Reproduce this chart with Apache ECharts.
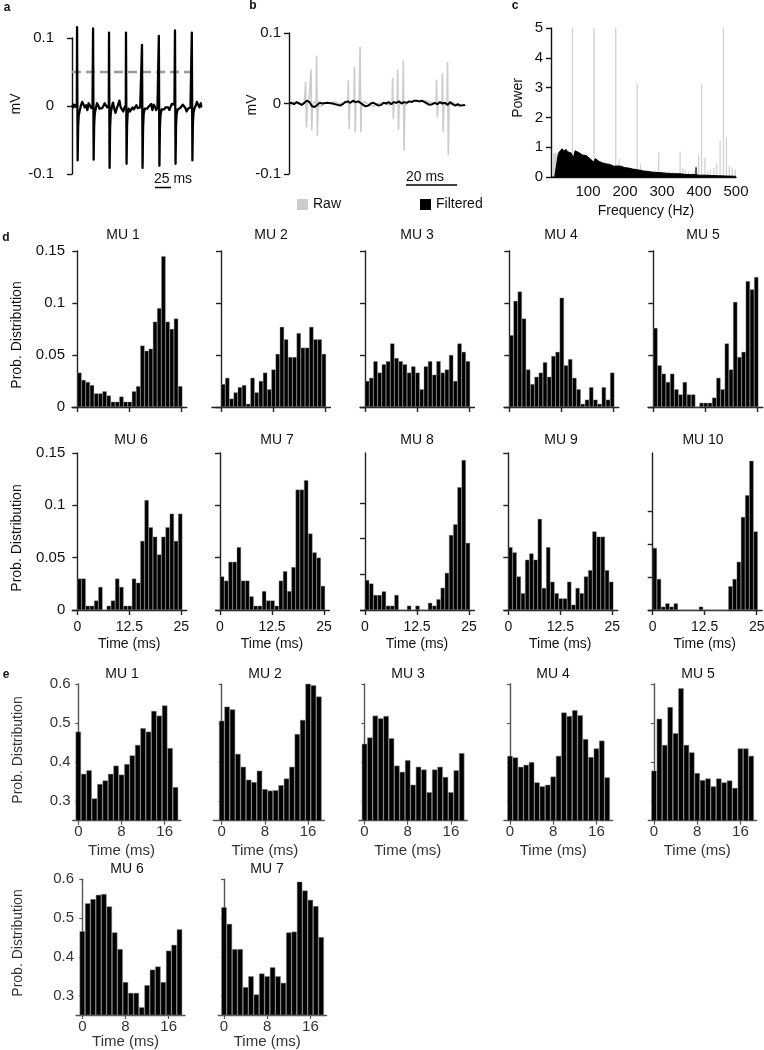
<!DOCTYPE html>
<html><head><meta charset="utf-8">
<script src="https://cdn.jsdelivr.net/npm/echarts@6/dist/echarts.min.js"></script>
<style>html,body{margin:0;padding:0;background:#fff}#c{width:764px;height:1050px}</style>
</head><body><div id="c"></div>
<script>
// ---------------- DATA ----------------
// Panel a: raw EMG trace [time ms, mV]
const aTrace = [
[0,0.001],[1.5,-0.002],[3,0.002],[5,-0.001],[7,0.001],[7.6,0.003],[7.9,0.116],[8.8,-0.080],[9.6,-0.030],[10.5,-0.014],[12,-0.007],[14,0.001],[16,0.006],[18,0.002],[20,-0.002],[22,0.001],[24,-0.006],[26,0.004],[28,0.002],[30,-0.003],[32,0.000],
[32.6,0.002],[32.9,0.114],[33.8,-0.079],[34.6,-0.028],[35.5,-0.012],[37,-0.004],[39,0.004],[41,0.001],[43,-0.004],[45,-0.003],[47,-0.003],[49,0.0],[51,0.004],[53,0.001],[55,-0.002],[57,0.0],
[57.5,0.001],[57.8,0.108],[58.7,-0.091],[59.5,-0.032],[60.4,-0.012],[62,-0.002],[64,0.005],[66,-0.004],[68,-0.010],[70,-0.003],[72,0.002],[74,0.008],[76,-0.002],[78,-0.004],[80,-0.008],[82,-0.002],[83.5,0.0],
[84,0.001],[84.3,0.108],[85.2,-0.085],[86,-0.028],[86.9,-0.011],[88.5,-0.004],[90.5,-0.008],[92.5,-0.007],[94.5,-0.002],[96.5,-0.005],[98.5,-0.004],[100.5,0.001],[102.5,-0.003],[104.5,-0.004],[106.5,-0.002],[108.5,-0.001],
[109,0.0],[109.3,0.090],[110.2,-0.091],[111,-0.032],[111.9,-0.012],[113.5,-0.004],[115.5,-0.003],[117.5,-0.004],[119.5,-0.001],[121.5,-0.003],[123.5,0.003],[125.5,-0.006],[127.5,0.002],[129.5,-0.001],[131.5,-0.006],[133.5,-0.002],[135.2,0.0],
[135.6,0.103],[136.5,-0.088],[137.3,-0.030],[138.2,-0.013],[140,-0.005],[142,-0.006],[144,-0.005],[146,-0.002],[148,-0.004],[150,-0.002],[152,-0.006],[154,-0.001],[156,0.003],[158,0.005],[160,0.002],
[160.5,0.002],[160.8,0.111],[161.7,-0.085],[162.5,-0.027],[163.4,-0.012],[165,-0.005],[167,-0.004],[169,-0.003],[171,-0.004],[173,0.002],[175,0.004],[177,-0.003],[179,-0.008],[181,-0.004],[183,-0.006],[185,-0.002],[186.8,0.0],
[187.1,0.108],[188,-0.080],[188.8,-0.026],[189.7,-0.010],[191,-0.004],[193,0.0],[195,0.006],[197,0.002],[199,-0.002],[200,0.0],[201,0.004],[202,-0.002]
];
const aThresholdMv = 0.05;
const aThresholdSpanMs = [0, 197];
const aScaleBar = {startMs: 129.6, lengthMs: 25, levelMv: -0.12, label: '25 ms'};

// Panel b: raw vs filtered [time ms, mV]
const bRaw = [
[0,0.001],[1,-0.001],[2,0.002],[3,0],[4,0.001],[5,-0.002],[6,0],
[6.3,0],[6.5,0.031],[6.8,-0.034],[7.1,-0.002],[7.8,0.002],[8.4,0],[8.6,0.048],[8.9,-0.038],[9.2,-0.003],[10,0.003],[10.6,0],[10.8,0.068],[11.1,-0.046],[11.4,-0.004],
[12.5,-0.004],[14,0.001],[16,0],[18,0.002],[20,-0.001],[22,0.002],[23,0],
[23.2,0.033],[23.5,-0.036],[23.8,0],[25,0.004],[25.4,0],[25.6,0.052],[25.9,-0.041],[26.2,0],[27.4,0.002],[27.8,0.080],[28.1,-0.041],[28.4,-0.002],
[29.5,0.003],[31,-0.002],[33,-0.004],[35,0],[37,0.001],[39,-0.002],[40.3,0],
[40.5,0.036],[40.8,-0.022],[41.1,-0.001],[42.3,0.002],[42.5,0.048],[42.8,-0.038],[43.1,0],[44.5,0.002],[44.7,0.061],[45.0,-0.067],[45.3,-0.003],
[47,0.003],[49,0.004],[51,0.002],[53,0.004],[55,0.002],[57.5,0],
[57.7,0.034],[58.0,-0.020],[58.3,0],[59.8,0.001],[60,0.043],[60.3,-0.041],[60.6,0],[61.8,0.001],[62,0.059],[62.3,-0.073],[62.6,-0.003],
[64,0.002],[66,-0.004],[68,-0.002],[69.5,-0.003]
];
const bFiltered = [
[0,0],[1,0.001],[2,-0.001],[3,0.002],[4,0],[5,-0.002],[6,0.001],[7,0.004],[8,0.002],[9,-0.004],[10,-0.005],[11,-0.002],[12,0.001],[13,0],[15,0.001],[17,0],[19,-0.002],[20,-0.003],[21,-0.001],[22,0.002],[23,0.003],[24,0.001],[25,0.004],[26,0.002],[27,0.003],[28,0.001],[29,-0.002],[30,-0.004],[31,-0.003],[32,0],[33,0.001],[34,-0.001],[35,-0.003],[36,-0.002],[37,0.001],[38,0],[39,0.002],[40,-0.001],[41,0.002],[42,0.001],[43,0.003],[44,0],[45,0.002],[46,0.001],[47,0.003],[48,0.002],[49,0.004],[50,0.004],[51,0.003],[52,0.004],[53,0.002],[54,0],[55,-0.002],[56,-0.001],[57,0.001],[58,-0.001],[59,0.002],[60,0],[61,0.001],[62,-0.002],[63,0.002],[64,-0.001],[65,-0.003],[66,-0.001],[67,-0.003],[68.8,-0.002]
];
const bScaleBar = {startMs: 45.75, lengthMs: 20, levelMv: -0.1156, label: '20 ms'};

// Panel c: power spectra
const cFreqStepHz = 5;
const cFilteredPower = [
0,0,0,0,0.8,0.88,0.95,0.86,0.93,0.85,
0.9,0.8,0.62,0.88,0.92,0.82,0.86,0.74,0.78,0.72,
0.7,0.62,0.66,0.5,0.62,0.58,0.52,0.56,0.47,0.5,
0.44,0.46,0.42,0.44,0.36,0.4,0.37,0.34,0.36,0.3,
0.31,0.28,0.3,0.26,0.27,0.24,0.25,0.22,0.23,0.22,
0.2,0.21,0.19,0.2,0.17,0.18,0.16,0.17,0.15,0.16,
0.14,0.15,0.13,0.14,0.12,0.13,0.11,0.12,0.11,0.1,
0.11,0.1,0.09,0.1,0.08,0.09,0.08,0.07,0.08,0.07,
0.06,0.07,0.06,0.05,0.06,0.05,0.05,0.04,0.05,0.04,
0.04,0.035,0.04,0.03,0.035,0.03,0.03,0.025,0.03,0.025,
0.02];
const cFilteredPeaks = [[392,0.33]];
const cRawLines = [[6,0.78],[9,0.8],[12,0.82],[15,0.75],[18,0.7],[22,0.5],[58,5],[116.5,5],[175,5],[184,0.6],[233,3.15],[242,0.45],[291,0.82],[320,0.2],[330,0.18],[338,0.15],[349,0.85],[356,0.3],[363,0.25],[372,0.18],[381,0.15],[390,0.2],[399,0.75],[407,3.1],[416,0.65],[424,0.22],[431,0.25],[440,0.3],[448,0.48],[457,1.22],[466,5],[474,1.32],[482,0.35],[490,0.28],[498,0.25]];

// Panel d: probability distributions (25 bins over 0-25 ms)
const dMU1 = [0.033,0.026,0.024,0.021,0.013,0.013,0.015,0.011,0.005,0.005,0.010,0.005,0.005,0.015,0.020,0.059,0.054,0.056,0.082,0.095,0.145,0.082,0.075,0.085,0.020];
const dMU2 = [0.022,0.028,0.008,0.014,0.019,0.021,0.003,0.028,0.014,0.025,0.033,0.017,0.036,0.051,0.077,0.065,0.048,0.048,0.071,0.057,0.057,0.077,0.065,0.065,0.051];
const dMU3 = [0.025,0.028,0.044,0.033,0.041,0.044,0.061,0.047,0.044,0.041,0.033,0.039,0.033,0.017,0.039,0.044,0.031,0.044,0.033,0.036,0.050,0.025,0.061,0.053,0.044];
const dMU4 = [0.069,0.102,0.111,0.085,0.036,0.022,0.029,0.033,0.043,0.029,0.049,0.053,0.105,0.040,0.046,0.028,0.017,0.003,0.007,0.019,0.007,0.003,0.019,0.007,0.033];
const dMU5 = [0.076,0.040,0.032,0.024,0.032,0.017,0.012,0.024,0.012,0.012,0,0.004,0.004,0.004,0.009,0.028,0.017,0.061,0.036,0.101,0.048,0.053,0.121,0.113,0.125];
const dMU6 = [0.030,0.030,0.004,0.004,0.009,0.022,0,0.004,0.009,0.030,0.022,0.004,0.004,0.030,0.026,0.066,0.105,0.079,0.070,0.053,0.070,0.079,0.092,0.066,0.092];
const dMU7 = [0.032,0.028,0.046,0.046,0.060,0.028,0.028,0.013,0.004,0.004,0.018,0.009,0.009,0.004,0.028,0.037,0.018,0.041,0.115,0.115,0.124,0.073,0.055,0.050,0.023];
const dMU8 = [0.042,0.037,0.021,0.021,0.026,0.006,0.006,0.021,0,0,0.006,0,0.006,0,0,0.010,0.006,0.015,0.031,0.052,0.105,0.120,0.172,0.210,0.094];
const dMU9 = [0.060,0.055,0.032,0.016,0.048,0.054,0.048,0.087,0.021,0.060,0.027,0.016,0.011,0.011,0.027,0.005,0.021,0.016,0.032,0.038,0.075,0.070,0.070,0.038,0.027];
const dMU10 = [0.094,0.047,0.005,0.010,0.005,0.010,0,0,0,0,0,0.005,0,0,0,0,0,0,0.036,0.047,0.073,0.141,0.174,0.226,0.119];
const dYMax = [0.15,0.15,0.15,0.15,0.15,0.15,0.15,0.22,0.15,0.238];
const dYTicks = [0, 0.05, 0.1, 0.15];
const dXTicks = [0, 12.5, 25];
const dBinMs = 1.01;

// Panel e: probability distributions (19 bins, 1 ms)
const eMU1 = [0.478,0.370,0.379,0.307,0.344,0.353,0.370,0.391,0.368,0.395,0.417,0.444,0.487,0.478,0.531,0.519,0.545,0.436,0.336];
const eMU2 = [0.506,0.542,0.535,0.421,0.388,0.355,0.349,0.378,0.331,0.327,0.328,0.341,0.358,0.388,0.472,0.508,0.602,0.597,0.568];
const eMU3 = [0.447,0.463,0.519,0.512,0.518,0.461,0.391,0.375,0.405,0.342,0.388,0.381,0.323,0.381,0.388,0.362,0.323,0.379,0.423];
const eMU4 = [0.416,0.412,0.388,0.393,0.400,0.348,0.338,0.342,0.363,0.416,0.527,0.518,0.533,0.520,0.459,0.413,0.435,0.455,0.361];
const eMU5 = [0.378,0.511,0.444,0.541,0.474,0.589,0.444,0.425,0.372,0.354,0.358,0.338,0.358,0.348,0.353,0.334,0.435,0.435,0.416];
const eMU6 = [0.466,0.538,0.549,0.560,0.562,0.530,0.463,0.420,0.335,0.307,0.307,0.270,0.327,0.367,0.375,0.335,0.416,0.431,0.471];
const eMU7 = [0.528,0.485,0.420,0.420,0.322,0.350,0.303,0.357,0.350,0.373,0.350,0.333,0.463,0.465,0.594,0.571,0.547,0.531,0.451];
const eYTicks = [0.3, 0.4, 0.5, 0.6];
const eXTicks = [0, 8, 16];
const eBinMs = 1;

const dTitles = ['MU 1','MU 2','MU 3','MU 4','MU 5','MU 6','MU 7','MU 8','MU 9','MU 10'];
const eTitles = ['MU 1','MU 2','MU 3','MU 4','MU 5','MU 6','MU 7'];

// ---------------- LAYOUT / STYLE ----------------
const FONT = '"Liberation Sans", Arial, Helvetica, sans-serif';
const grids = [], xAxes = [], yAxes = [], series = [], graphics = [];

function txt(x, y, text, o) {
  o = o || {};
  graphics.push({type:'text', x:x, y:y, rotation:o.rot||0, silent:true,
    style:{text:text, fill:o.color||'#111', fontSize:o.size||14, fontFamily:FONT, fontWeight:o.weight||'normal',
      align:o.align||'center', verticalAlign:'middle'}});
}
function addGrid(left, top, width, height) {
  grids.push({left:left, top:top, width:width, height:height, containLabel:false, outerBoundsMode:'none'});
  return grids.length - 1;
}
function px(g, xa, ya, xv, yv) {
  const gr = grids[g];
  return [gr.left + (xv - xa.min) / (xa.max - xa.min) * gr.width,
          gr.top + gr.height - (yv - ya.min) / (ya.max - ya.min) * gr.height];
}

// ---- Panel a ----
(function(){
  const g = addGrid(72, 38, 130, 136);
  const xa = {type:'value', gridIndex:g, min:0, max:203, show:false};
  const ya = {type:'value', gridIndex:g, min:-0.1, max:0.1, interval:0.1,
    axisLine:{show:true, lineStyle:{color:'#111', width:1.4}},
    axisTick:{show:true, length:5, lineStyle:{color:'#111', width:1.4}},
    axisLabel:{color:'#111', fontSize:15, fontFamily:FONT, margin:18}, splitLine:{show:false}};
  xAxes.push(xa); yAxes.push(ya);
  series.push({type:'line', xAxisIndex:g, yAxisIndex:g, symbol:'none', silent:true, z:1,
    data:[[aThresholdSpanMs[0], aThresholdMv],[aThresholdSpanMs[1], aThresholdMv]],
    lineStyle:{color:'#9a9a9a', width:2.5, type:[9,5]}});
  series.push({type:'line', xAxisIndex:g, yAxisIndex:g, symbol:'none', silent:true, clip:false, z:3,
    data:aTrace, lineStyle:{color:'#000', width:2.3, join:'round'}});
  const sb = aScaleBar;
  series.push({type:'line', xAxisIndex:g, yAxisIndex:g, symbol:'none', silent:true, clip:false,
    data:[[sb.startMs, sb.levelMv],[sb.startMs+sb.lengthMs, sb.levelMv]], lineStyle:{color:'#000', width:1.5}});
  const p = px(g, xa, ya, sb.startMs, sb.levelMv);
  txt(p[0]-1, p[1]-8, sb.label, {align:'left', size:14});
  txt(16, 104, 'mV', {rot:Math.PI/2, size:14});
  txt(7, 8, 'a', {weight:'bold', size:12});
})();

// ---- Panel b ----
(function(){
  const g = addGrid(289, 33, 179, 141);
  const xa = {type:'value', gridIndex:g, min:0, max:70, show:false};
  const ya = {type:'value', gridIndex:g, min:-0.1, max:0.1, interval:0.1,
    axisLine:{show:true, lineStyle:{color:'#111', width:1.4}},
    axisTick:{show:true, length:5, lineStyle:{color:'#111', width:1.4}},
    axisLabel:{color:'#111', fontSize:15, fontFamily:FONT, margin:8}, splitLine:{show:false}};
  xAxes.push(xa); yAxes.push(ya);
  series.push({name:'Raw', type:'line', xAxisIndex:g, yAxisIndex:g, symbol:'none', silent:true, z:1,
    data:bRaw, color:'#cccccc', itemStyle:{color:'#cccccc'}, lineStyle:{color:'#cccccc', width:1.6}});
  series.push({name:'Filtered', type:'line', xAxisIndex:g, yAxisIndex:g, symbol:'none', silent:true, z:3,
    data:bFiltered, color:'#000', itemStyle:{color:'#000'}, lineStyle:{color:'#000', width:2}});
  const sb = bScaleBar;
  series.push({type:'line', xAxisIndex:g, yAxisIndex:g, symbol:'none', silent:true, clip:false,
    data:[[sb.startMs, sb.levelMv],[sb.startMs+sb.lengthMs, sb.levelMv]], lineStyle:{color:'#000', width:1.5}});
  const p = px(g, xa, ya, sb.startMs, sb.levelMv);
  txt(p[0], p[1]-8, sb.label, {align:'left', size:14});
  txt(252, 105, 'mV', {rot:Math.PI/2, size:14});
  txt(253, 6, 'b', {weight:'bold', size:12});
})();

// ---- Panel c ----
(function(){
  const g = addGrid(551, 28, 185, 149);
  const xa = {type:'value', gridIndex:g, min:0, max:500, interval:100,
    axisLine:{show:true, lineStyle:{color:'#111', width:1.4}}, axisTick:{show:false},
    axisLabel:{color:'#111', fontSize:15, fontFamily:FONT, margin:7, formatter:function(v){return v===0?'':String(v);}},
    splitLine:{show:false}};
  const ya = {type:'value', gridIndex:g, min:0, max:5, interval:1,
    axisLine:{show:true, lineStyle:{color:'#111', width:1.4}},
    axisTick:{show:true, length:5, lineStyle:{color:'#111', width:1.4}},
    axisLabel:{color:'#111', fontSize:15, fontFamily:FONT, margin:8}, splitLine:{show:false}};
  xAxes.push(xa); yAxes.push(ya);
  series.push({type:'bar', xAxisIndex:g, yAxisIndex:g, silent:true, barWidth:1.3, barGap:'-100%', z:1,
    data:cRawLines, itemStyle:{color:'#d2d2d2'}});
  series.push({type:'line', xAxisIndex:g, yAxisIndex:g, symbol:'none', silent:true, z:2,
    data:cFilteredPower.map(function(v,i){return [i*cFreqStepHz, v];}),
    lineStyle:{color:'#000', width:1}, areaStyle:{color:'#000', opacity:1}});
  series.push({type:'bar', xAxisIndex:g, yAxisIndex:g, silent:true, barWidth:1.3, barGap:'-100%', z:3,
    data:cFilteredPeaks, itemStyle:{color:'#000'}});
  txt(518, 98, 'Power', {rot:Math.PI/2, size:14});
  txt(646, 211, 'Frequency (Hz)', {size:14});
  txt(515, 6, 'c', {weight:'bold', size:12});
})();

// ---- Panel d ----
const dHists = [dMU1,dMU2,dMU3,dMU4,dMU5,dMU6,dMU7,dMU8,dMU9,dMU10];
const dPanels = [
  {row:0, ax:72, zero:77.3, cx:123}, {row:0, ax:212, zero:221, cx:271}, {row:0, ax:360, zero:365, cx:417},
  {row:0, ax:504, zero:509.3, cx:561}, {row:0, ax:648, zero:653.3, cx:703},
  {row:1, ax:72.3, zero:77.3, cx:131}, {row:1, ax:216, zero:220, cx:277}, {row:1, ax:360.7, zero:365, cx:417},
  {row:1, ax:504, zero:508.3, cx:561}, {row:1, ax:648.3, zero:652.7, cx:703}
];
const dRows = [{top:251, bottom:407, titleY:235}, {top:453, bottom:610, titleY:440}];
const D_PX = 4.16, D_XMAX = 26.3;
dHists.forEach(function(vals, i){
  const pnl = dPanels[i], row = dRows[pnl.row];
  const xmin = -(pnl.zero - pnl.ax) / D_PX;
  const g = addGrid(pnl.ax, row.top, (D_XMAX - xmin) * D_PX, row.bottom - row.top);
  const firstCol = (i % 5) === 0, lastRow = pnl.row === 1;
  xAxes.push({type:'value', gridIndex:g, min:xmin, max:D_XMAX,
    axisLine:{show:true, onZero:false, lineStyle:{color:'#222', width:1.4}},
    axisTick:{show:true, length:5, customValues:dXTicks, lineStyle:{color:'#222', width:1.4}},
    axisLabel:{show:lastRow, customValues:dXTicks, color:'#111', fontSize:14, fontFamily:FONT, margin:10},
    splitLine:{show:false}});
  yAxes.push({type:'value', gridIndex:g, min:0, max:dYMax[i],
    axisLine:{show:true, lineStyle:{color:'#222', width:1.4}},
    axisTick:{show:true, length:5, customValues:dYTicks, lineStyle:{color:'#222', width:1.4}},
    axisLabel:{show:firstCol, customValues:dYTicks, color:'#111', fontSize:15, fontFamily:FONT, margin:7},
    splitLine:{show:false}});
  series.push({type:'bar', xAxisIndex:g, yAxisIndex:g, silent:true, barWidth:'100%',
    data:vals.map(function(v,k){return [(k+0.5)*dBinMs, v];}),
    itemStyle:{color:'#000', borderColor:'#808080', borderWidth:0.4}});
  txt(pnl.cx, row.titleY, dTitles[i], {size:14});
  if (lastRow) txt(pnl.zero + 12.5 * D_PX, 644, 'Time (ms)', {size:14});
});
txt(17, 335, 'Prob. Distribution', {rot:Math.PI/2, size:14});
txt(17, 538, 'Prob. Distribution', {rot:Math.PI/2, size:14});
txt(6, 238, 'd', {weight:'bold', size:12});

// ---- Panel e ----
const eHists = [eMU1,eMU2,eMU3,eMU4,eMU5,eMU6,eMU7];
const ePanels = [
  {row:0, ax:72.7, zero:78.3, cx:122}, {row:0, ax:213.3, zero:221.7, cx:265}, {row:0, ax:359, zero:364.5, cx:408},
  {row:0, ax:504, zero:510, cx:553}, {row:0, ax:648.3, zero:654, cx:698},
  {row:1, ax:76, zero:82.3, cx:127}, {row:1, ax:218.3, zero:224, cx:267}
];
const eRows = [{top:684, bottom:820.7, titleY:674, timeY:851}, {top:879.3, bottom:1015, titleY:869, timeY:1042}];
const E_PX = 5.4, E_XMAX = 19.0;
eHists.forEach(function(vals, i){
  const pnl = ePanels[i], row = eRows[pnl.row];
  const xmin = -(pnl.zero - pnl.ax) / E_PX;
  const g = addGrid(pnl.ax, row.top, (E_XMAX - xmin) * E_PX, row.bottom - row.top);
  const firstCol = (i === 0 || i === 5);
  xAxes.push({type:'value', gridIndex:g, min:xmin, max:E_XMAX,
    axisLine:{show:true, onZero:false, lineStyle:{color:'#555', width:1.4}},
    axisTick:{show:true, length:4, customValues:eXTicks, lineStyle:{color:'#555', width:1.2}},
    axisLabel:{show:true, customValues:eXTicks, color:'#333', fontSize:15, fontFamily:FONT, margin:4},
    splitLine:{show:false}});
  yAxes.push({type:'value', gridIndex:g, min:0.25, max:0.6,
    axisLine:{show:true, lineStyle:{color:'#555', width:1.4}},
    axisTick:{show:true, length:3, customValues:eYTicks, lineStyle:{color:'#555', width:1.2}},
    axisLabel:{show:firstCol, customValues:eYTicks, color:'#333', fontSize:15, fontFamily:FONT, margin:2},
    splitLine:{show:false}});
  series.push({type:'bar', xAxisIndex:g, yAxisIndex:g, silent:true, barWidth:'100%',
    data:vals.map(function(v,k){return [k*eBinMs, v];}),
    itemStyle:{color:'#000', borderColor:'#8a8a8a', borderWidth:0.5}});
  txt(pnl.cx, row.titleY, eTitles[i], {size:14});
  txt(pnl.zero + 8 * E_PX, row.timeY, 'Time (ms)', {size:15, color:'#333'});
});
txt(18, 750, 'Prob. Distribution', {rot:Math.PI/2, size:14, color:'#333'});
txt(18, 943, 'Prob. Distribution', {rot:Math.PI/2, size:14, color:'#333'});
txt(6, 675, 'e', {weight:'bold', size:12});

const chart = echarts.init(document.getElementById('c'), null, {renderer:'canvas'});
chart.setOption({
  animation:false,
  backgroundColor:'#fff',
  textStyle:{fontFamily:FONT},
  legend:{data:['Raw','Filtered'], left:297, top:197.5, itemWidth:11, itemHeight:11, itemGap:79, icon:'rect',
    padding:0, selectedMode:false, textStyle:{fontSize:14, color:'#111', fontFamily:FONT}},
  grid:grids, xAxis:xAxes, yAxis:yAxes, series:series, graphic:graphics
});
</script></body></html>
